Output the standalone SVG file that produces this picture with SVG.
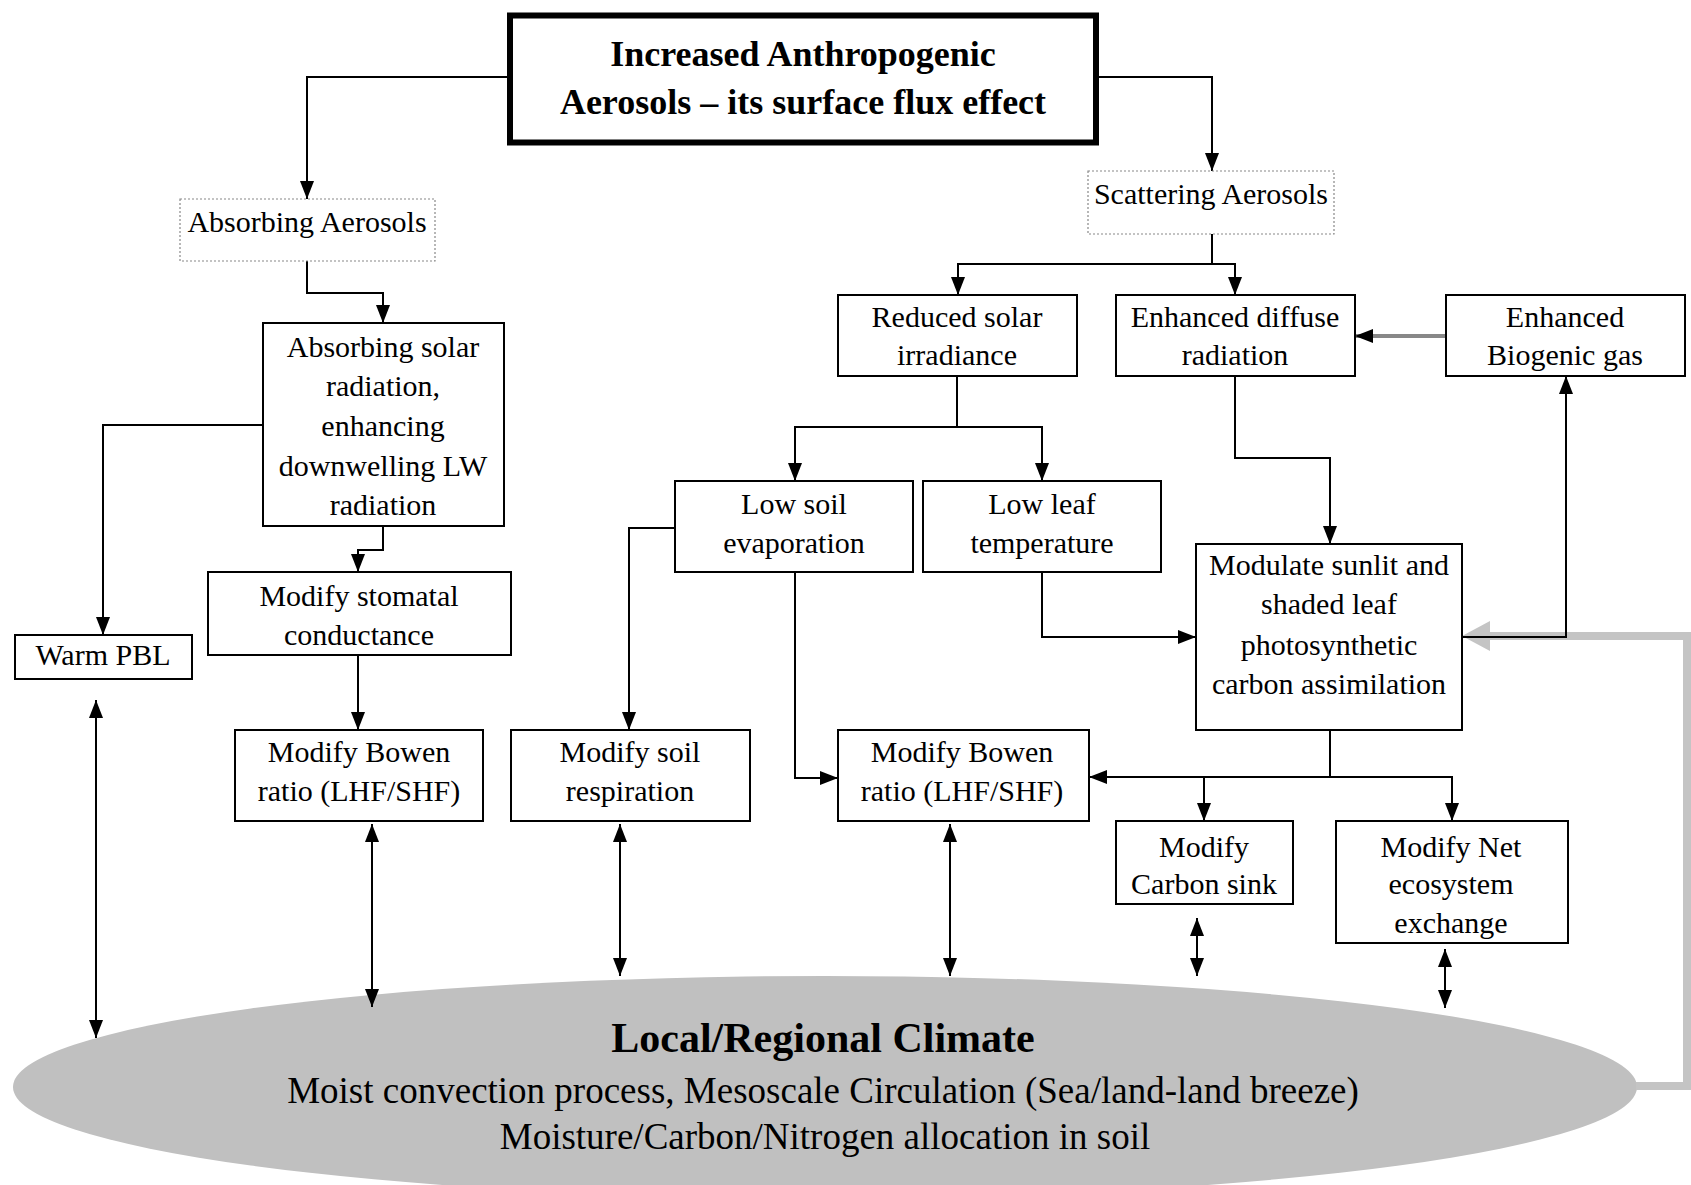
<svg xmlns="http://www.w3.org/2000/svg" width="1691" height="1185" viewBox="0 0 1691 1185">
<style>
.bx{fill:#fff;stroke:#000;stroke-width:2}
.dot{fill:#fff;stroke:#888;stroke-width:1.2;stroke-dasharray:2 2}
.t{font-family:"Liberation Serif","Times New Roman",serif;font-size:30px;text-anchor:middle;fill:#000}
.ttl{font-weight:bold;font-size:36px}
.big{font-weight:bold;font-size:42px}
.sub{font-size:37px}
.c{fill:none;stroke:#000;stroke-width:2}
</style>
<defs>
<marker id="ah" viewBox="0 0 18 14" refX="18" refY="7" markerWidth="18" markerHeight="14" markerUnits="userSpaceOnUse" orient="auto-start-reverse"><path d="M0,0 L18,7 L0,14 z" fill="#000"/></marker>
<marker id="ahg" viewBox="0 0 28 30" refX="0" refY="15" markerWidth="28" markerHeight="30" markerUnits="userSpaceOnUse" orient="auto"><path d="M0,0 L28,15 L0,30 z" fill="#c4c4c4"/></marker>
</defs>
<rect width="1691" height="1185" fill="#fff"/>
<g id="climate">
<ellipse cx="825" cy="1087" rx="812" ry="111" fill="#c0c0c0"/>
<text class="t big" x="823" y="1052">Local/Regional Climate</text>
<text class="t sub" x="823" y="1103">Moist convection process, Mesoscale Circulation (Sea/land-land breeze)</text>
<text class="t sub" x="825" y="1149">Moisture/Carbon/Nitrogen allocation in soil</text>
</g>
<g id="connectors">
<path d="M1636,1086 H1687 V636 H1490" fill="none" stroke="#c4c4c4" stroke-width="8" marker-end="url(#ahg)"/>
<path class="c" d="M510,77 H307 V199" marker-end="url(#ah)"/>
<path class="c" d="M1096,77 H1212 V171" marker-end="url(#ah)"/>
<path class="c" d="M307,261 V293 H383 V323" marker-end="url(#ah)"/>
<path class="c" d="M263,425 H103 V635" marker-end="url(#ah)"/>
<path class="c" d="M383,526 V550 H358 V572" marker-end="url(#ah)"/>
<path class="c" d="M358,655 V730" marker-end="url(#ah)"/>
<path class="c" d="M675,528 H629 V730" marker-end="url(#ah)"/>
<path class="c" d="M795,572 V778 H838" marker-end="url(#ah)"/>
<path class="c" d="M957,376 V427 H795 V481" marker-end="url(#ah)"/>
<path class="c" d="M957,427 H1042 V481" marker-end="url(#ah)"/>
<path class="c" d="M1212,234 V264 H958 V295" marker-end="url(#ah)"/>
<path class="c" d="M1212,264 H1235 V295" marker-end="url(#ah)"/>
<path d="M1446,336 H1355" fill="none" stroke="#888" stroke-width="4" marker-end="url(#ah)"/>
<path class="c" d="M1235,376 V458 H1330 V544" marker-end="url(#ah)"/>
<path class="c" d="M1462,637 H1566 V376" marker-end="url(#ah)"/>
<path class="c" d="M1042,572 V637 H1196" marker-end="url(#ah)"/>
<path class="c" d="M1330,730 V777 H1089" marker-end="url(#ah)"/>
<path class="c" d="M1330,777 H1452 V821" marker-end="url(#ah)"/>
<path class="c" d="M1204,777 V821" marker-end="url(#ah)"/>
<path class="c" d="M96,700 V1038" marker-start="url(#ah)" marker-end="url(#ah)"/>
<path class="c" d="M372,824 V1007" marker-start="url(#ah)" marker-end="url(#ah)"/>
<path class="c" d="M620,824 V976" marker-start="url(#ah)" marker-end="url(#ah)"/>
<path class="c" d="M950,824 V976" marker-start="url(#ah)" marker-end="url(#ah)"/>
<path class="c" d="M1197,918 V976" marker-start="url(#ah)" marker-end="url(#ah)"/>
<path class="c" d="M1445,949 V1008" marker-start="url(#ah)" marker-end="url(#ah)"/>
</g>
<g id="title">
<rect x="510" y="15.5" width="586" height="127" fill="#fff" stroke="#000" stroke-width="6"/>
<text class="t ttl" x="803" y="66">Increased Anthropogenic</text>
<text class="t ttl" x="803" y="114">Aerosols – its surface flux effect</text>
</g>
<g id="absorbing-aerosols">
<rect class="dot" x="180" y="199" width="255" height="62"/>
<text class="t" x="307" y="232">Absorbing Aerosols</text>
</g>
<g id="scattering-aerosols">
<rect class="dot" x="1088" y="171" width="246" height="63"/>
<text class="t" x="1211" y="204">Scattering Aerosols</text>
</g>
<g id="absorbing-solar">
<rect class="bx" x="263" y="323" width="241" height="203"/>
<text class="t" x="383" y="357">Absorbing solar</text>
<text class="t" x="383" y="396">radiation,</text>
<text class="t" x="383" y="436">enhancing</text>
<text class="t" x="383" y="476">downwelling LW</text>
<text class="t" x="383" y="515">radiation</text>
</g>
<g id="warm-pbl">
<rect class="bx" x="15" y="635" width="177" height="44"/>
<text class="t" x="103" y="665">Warm PBL</text>
</g>
<g id="modify-stomatal">
<rect class="bx" x="208" y="572" width="303" height="83"/>
<text class="t" x="359" y="606">Modify stomatal</text>
<text class="t" x="359" y="645">conductance</text>
</g>
<g id="bowen-left">
<rect class="bx" x="235" y="730" width="248" height="91"/>
<text class="t" x="359" y="762">Modify Bowen</text>
<text class="t" x="359" y="801">ratio (LHF/SHF)</text>
</g>
<g id="soil-respiration">
<rect class="bx" x="511" y="730" width="239" height="91"/>
<text class="t" x="630" y="762">Modify soil</text>
<text class="t" x="630" y="801">respiration</text>
</g>
<g id="reduced-solar">
<rect class="bx" x="838" y="295" width="239" height="81"/>
<text class="t" x="957" y="327">Reduced solar</text>
<text class="t" x="957" y="365">irradiance</text>
</g>
<g id="enhanced-diffuse">
<rect class="bx" x="1116" y="295" width="239" height="81"/>
<text class="t" x="1235" y="327">Enhanced diffuse</text>
<text class="t" x="1235" y="365">radiation</text>
</g>
<g id="biogenic-gas">
<rect class="bx" x="1446" y="295" width="239" height="81"/>
<text class="t" x="1565" y="327">Enhanced</text>
<text class="t" x="1565" y="365">Biogenic gas</text>
</g>
<g id="low-soil">
<rect class="bx" x="675" y="481" width="238" height="91"/>
<text class="t" x="794" y="514">Low soil</text>
<text class="t" x="794" y="553">evaporation</text>
</g>
<g id="low-leaf">
<rect class="bx" x="923" y="481" width="238" height="91"/>
<text class="t" x="1042" y="514">Low leaf</text>
<text class="t" x="1042" y="553">temperature</text>
</g>
<g id="modulate">
<rect class="bx" x="1196" y="544" width="266" height="186"/>
<text class="t" x="1329" y="575">Modulate sunlit and</text>
<text class="t" x="1329" y="614">shaded leaf</text>
<text class="t" x="1329" y="655">photosynthetic</text>
<text class="t" x="1329" y="694">carbon assimilation</text>
</g>
<g id="bowen-mid">
<rect class="bx" x="838" y="730" width="251" height="91"/>
<text class="t" x="962" y="762">Modify Bowen</text>
<text class="t" x="962" y="801">ratio (LHF/SHF)</text>
</g>
<g id="carbon-sink">
<rect class="bx" x="1116" y="821" width="177" height="83"/>
<text class="t" x="1204" y="857">Modify</text>
<text class="t" x="1204" y="894">Carbon sink</text>
</g>
<g id="net-ecosystem">
<rect class="bx" x="1336" y="821" width="232" height="122"/>
<text class="t" x="1451" y="857">Modify Net</text>
<text class="t" x="1451" y="894">ecosystem</text>
<text class="t" x="1451" y="933">exchange</text>
</g>
</svg>
